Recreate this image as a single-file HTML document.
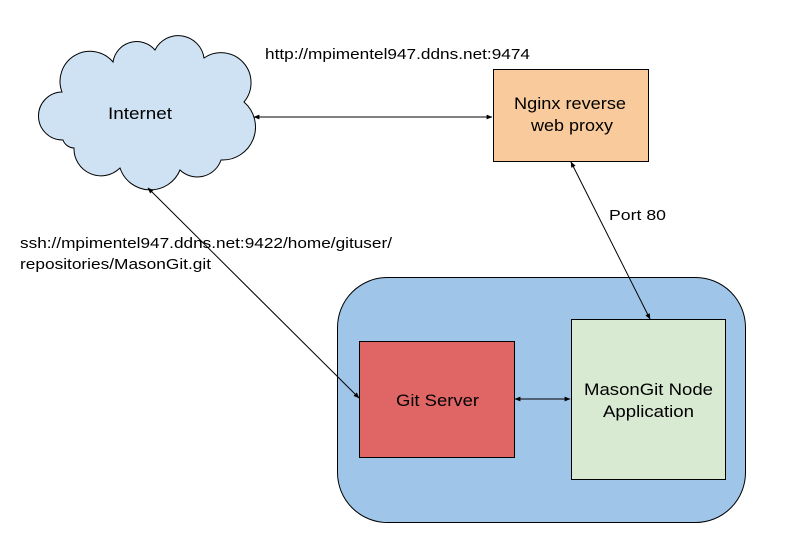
<!DOCTYPE html>
<html><head><meta charset="utf-8"><style>
html,body{margin:0;padding:0;background:#fff;}
svg{display:block;}
text{font-family:"Liberation Sans",Arial,sans-serif;fill:#000;}
</style></head><body>
<svg width="787" height="543" viewBox="0 0 787 543" xmlns="http://www.w3.org/2000/svg">
<defs>
<marker id="a" viewBox="0 0 10 10" refX="9" refY="5" markerWidth="6" markerHeight="6" orient="auto-start-reverse"><path d="M0,1 L10,5 L0,9 z" fill="#000"/></marker>
</defs>
<path d="M63,140 A24,24 0 0 1 62,92 A30,30 0 0 1 113,62 A24,24 0 0 1 155,50 A26,26 0 0 1 204,58 A30,30 0 0 1 244,102 A33,33 0 0 1 221,160 A25,25 0 0 1 180,170 A32,32 0 0 1 120,168 A27,27 0 0 1 74,148 A12,12 0 0 1 63,140 Z" fill="#cfe2f3" stroke="#000" stroke-width="1"/>
<text x="108" y="119" font-size="17" textLength="64" lengthAdjust="spacingAndGlyphs">Internet</text>
<rect x="493.5" y="69.5" width="155" height="92" fill="#f9cb9c" stroke="#000"/>
<text x="514" y="109" font-size="17" textLength="112" lengthAdjust="spacingAndGlyphs">Nginx reverse</text>
<text x="531" y="131" font-size="17" textLength="82" lengthAdjust="spacingAndGlyphs">web proxy</text>
<rect x="337.5" y="277.5" width="408" height="245" rx="50" ry="50" fill="#9fc5e8" stroke="#000"/>
<rect x="359.5" y="341.5" width="155" height="116" fill="#e06666" stroke="#000"/>
<text x="396" y="406" font-size="17" textLength="83" lengthAdjust="spacingAndGlyphs">Git Server</text>
<rect x="571.5" y="319.5" width="154" height="160" fill="#d9ead3" stroke="#000"/>
<text x="584" y="395" font-size="17" textLength="129" lengthAdjust="spacingAndGlyphs">MasonGit Node</text>
<text x="603" y="417" font-size="17" textLength="91" lengthAdjust="spacingAndGlyphs">Application</text>
<line x1="254" y1="117" x2="492" y2="117" stroke="#000" marker-start="url(#a)" marker-end="url(#a)"/>
<line x1="148" y1="188" x2="359" y2="398" stroke="#000" marker-start="url(#a)" marker-end="url(#a)"/>
<line x1="571" y1="162" x2="650" y2="319" stroke="#000" marker-start="url(#a)" marker-end="url(#a)"/>
<line x1="515" y1="399" x2="570" y2="399" stroke="#000" marker-start="url(#a)" marker-end="url(#a)"/>
<text x="265" y="59" font-size="15" textLength="265" lengthAdjust="spacingAndGlyphs">http://mpimentel947.ddns.net:9474</text>
<text x="609" y="220" font-size="15" textLength="57" lengthAdjust="spacingAndGlyphs">Port 80</text>
<text x="20" y="248" font-size="15" textLength="372" lengthAdjust="spacingAndGlyphs">ssh://mpimentel947.ddns.net:9422/home/gituser/</text>
<text x="20" y="269" font-size="15" textLength="191" lengthAdjust="spacingAndGlyphs">repositories/MasonGit.git</text>
</svg>
</body></html>
